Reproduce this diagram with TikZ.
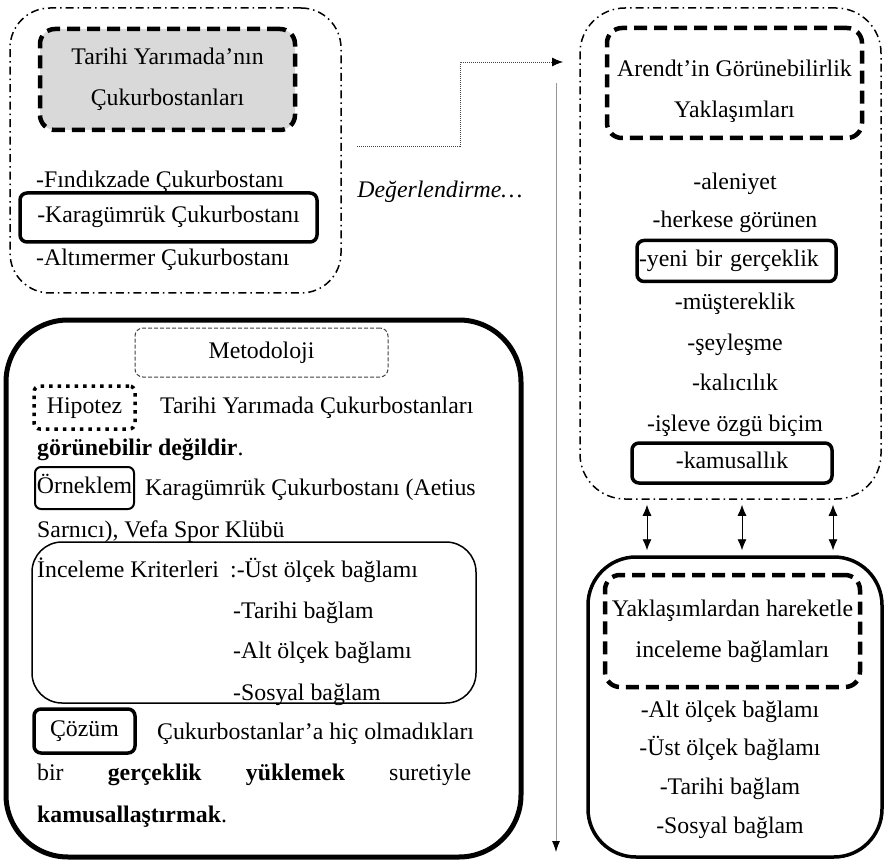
\documentclass[tikz,border=0pt]{standalone}
\usepackage{fontspec}
\setmainfont{Liberation Serif}
\usepackage{tikz}
\usetikzlibrary{calc}
\usetikzlibrary{arrows.meta}

\definecolor{headGray}{RGB}{217,217,217}
\definecolor{axisGray}{RGB}{150,150,150}

\begin{document}
\begin{tikzpicture}[x=1pt, y=-1pt,
  every node/.style={font=\fontsize{23.8}{41}\selectfont, inner sep=0pt},
  txt/.style={text height=16pt, text depth=5pt},
  dashdotbox/.style={draw, line width=1.5pt, rounded corners=40pt,
    dash pattern=on 8pt off 4pt on 1.5pt off 4pt},
  headbox/.style={draw, line width=4.5pt, rounded corners=15pt,
    dash pattern=on 13pt off 7pt, align=center},
  markbox/.style={draw, txt, line width=3.5pt, rounded corners=7pt},
  >={Latex[length=11pt,width=9pt]}]

  \useasboundingbox (0,0) rectangle (884,861);

% site group
  \node[dashdotbox, minimum width=331pt, minimum height=285pt] (siteGroup) at (175.5,150.5) {};
  \node[headbox, fill=headGray, minimum width=255pt, minimum height=101pt] (siteHead)
    at (167.5,79.5) {Tarihi Yarımada’nın\\Çukurbostanları};
  \node[txt, anchor=west] (findikzade) at (36,182) {-Fındıkzade Çukurbostanı};
  \node[markbox, minimum width=297pt, minimum height=49pt] (karagumruk)
    at (168.5,217.5) {-Karagümrük Çukurbostanı};
  \node[txt, anchor=west] (altimermer) at (36,260) {-Altımermer Çukurbostanı};

% evaluation
  \node[txt, font=\fontsize{23.8}{41}\selectfont\itshape] (evalText) at (440,192) {Değerlendirme…};
  \coordinate (evalStart) at (357,146);
  \coordinate (evalEnd) at (563,62);
  \draw[black!75, line width=.8pt, dash pattern=on 1pt off 1pt, -{Latex[length=11pt,width=9pt,color=black]}]
    (evalStart) -| ($(evalStart)!.5!(evalEnd)$) |- (evalEnd);

% time axis
  \coordinate (axisTop) at (556,83);
  \coordinate (axisBot) at (556,852);
  \draw[axisGray, line width=.8pt, -{Latex[length=11pt,width=8pt,color=black]}] (axisTop) -- (axisBot);

% arendt group
  \node[dashdotbox, rounded corners=45pt, minimum width=301pt, minimum height=491pt] (arendtGroup)
    at (730.5,253.5) {};
  \node[headbox, minimum width=255pt, minimum height=110pt] (arendtHead) at (734.5,83) {};
  \node[align=center] (arendtTitle) at (734.5,91) {Arendt’in Görünebilirlik\\Yaklaşımları};
  \node[txt] (aleniyet) at (735,184) {-aleniyet};
  \node[txt] (herkese) at (735,222) {-herkese görünen};
  \node[markbox, text width=195pt, inner xsep=2pt, minimum height=41pt, align=left] (yeni)
    at (736.5,261) {-yeni bir gerçeklik};
  \node[txt] (musterek) at (735,304) {-müştereklik};
  \node[txt] (seylesme) at (735,345) {-şeyleşme};
  \node[txt] (kalicilik) at (735,385) {-kalıcılık};
  \node[txt] (isleve) at (735,426) {-işleve özgü biçim};
  \node[markbox, minimum width=200pt, minimum height=40pt] (kamusallik) at (732,463) {-kamusallık};

% context group
  \node[draw, line width=3.5pt, rounded corners=48pt, minimum width=294pt, minimum height=300pt]
    (contextGroup) at (735,707) {};
  \node[headbox, minimum width=255pt, minimum height=112pt] (contextHead)
    at (732.5,631) {Yaklaşımlardan hareketle\\inceleme bağlamları};
  \node[txt] (altOlcek) at (730,712) {-Alt ölçek bağlamı};
  \node[txt] (ustOlcek) at (730,750) {-Üst ölçek bağlamı};
  \node[txt] (tarihi) at (730,789) {-Tarihi bağlam};
  \node[txt] (sosyal) at (730,828) {-Sosyal bağlam};

% links between the two groups
  \foreach \x in {647,742,833}
    \draw[<->, line width=.8pt, shorten <=5pt, shorten >=5pt]
      (arendtGroup.south -| \x,0) -- (contextGroup.north -| \x,0);

% method group
  \node[draw, line width=5pt, rounded corners=62pt, minimum width=515pt, minimum height=537pt]
    (methodGroup) at (263.5,588.5) {};
  \node[draw, txt, black!75, line width=1pt, dash pattern=on 4pt off 2pt, rounded corners=8pt,
    minimum width=253pt, minimum height=49pt, text=black] (methodHead) at (261.5,352.5) {Metodoloji};

  \node[draw, txt, line width=3.5pt, dash pattern=on 3.5pt off 5pt, rounded corners=6pt,
    minimum width=101pt, minimum height=43pt] (hypoTag) at (84.5,407.5) {Hipotez};
  \node[txt, anchor=west] (hypoLineA) at (160,408) {Tarihi Yarımada Çukurbostanları};
  \node[txt, anchor=west] (hypoLineB) at (37,450) {\textbf{görünebilir değildir}.};

  \node[draw, txt, line width=2pt, rounded corners=6pt, minimum width=99pt, minimum height=42pt]
    (sampleTag) at (84.5,488) {Örneklem};
  \node[txt, anchor=west] (sampleLineA) at (145,490) {Karagümrük Çukurbostanı (Aetius};
  \node[txt, anchor=west] (sampleLineB) at (37,532) {Sarnıcı), Vefa Spor Klübü};

  \node[draw, line width=1.5pt, rounded corners=30pt, minimum width=444pt, minimum height=161pt]
    (criteriaBox) at (254,622.5) {};
  \node[txt, anchor=west] (criteriaLabel) at (37,572) {İnceleme Kriterleri};
  \node[txt, anchor=west] (criteriaA) at (230,572) {:-Üst ölçek bağlamı};
  \node[txt, anchor=west] (criteriaB) at (233,613) {-Tarihi bağlam};
  \node[txt, anchor=west] (criteriaC) at (233,653) {-Alt ölçek bağlamı};
  \node[txt, anchor=west] (criteriaD) at (233,695) {-Sosyal bağlam};

  \node[markbox, minimum width=101pt, minimum height=44pt] (solutionTag) at (84.5,731) {Çözüm};
  \node[txt, anchor=west] (solutionLineA) at (157,734) {Çukurbostanlar’a hiç olmadıkları};
  \node[txt, anchor=west] (solutionLineB) at (37,775)
    {\hbox to 434pt{bir\hfill\textbf{gerçeklik}\hfill\textbf{yüklemek}\hfill suretiyle}};
  \node[txt, anchor=west] (solutionLineC) at (37,817) {\textbf{kamusallaştırmak}.};

\end{tikzpicture}
\end{document}
